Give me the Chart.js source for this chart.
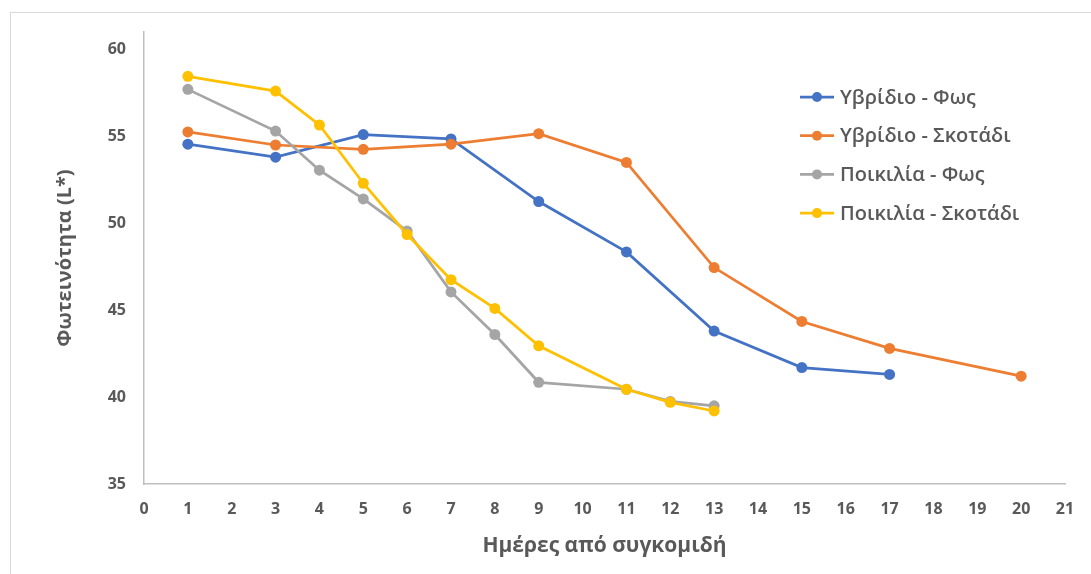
<!DOCTYPE html>
<html>
<head>
<meta charset="utf-8">
<script src="https://cdn.jsdelivr.net/npm/chart.js@4/dist/chart.umd.min.js"></script>
<style>
    html, body { margin: 0; padding: 0; background: #fff; }
    #wrap { width: 1091px; height: 574px; position: relative; }
</style>
</head>
<body>
<div id="wrap"><canvas id="lightness-chart"></canvas></div>
<script>
// Days after harvest for each series
const daysHybridLight = [1, 3, 5, 7, 9, 11, 13, 15, 17];
const daysHybridDark = [1, 3, 5, 7, 9, 11, 13, 15, 17, 20];
const daysVarietyLight = [1, 3, 4, 5, 6, 7, 8, 9, 11, 12, 13];
const daysVarietyDark = [1, 3, 4, 5, 6, 7, 8, 9, 11, 12, 13];

// Lightness (L*) values
const hybridLight = [54.55, 53.8, 55.1, 54.85, 51.25, 48.35, 43.8, 41.7, 41.3];
const hybridDark = [55.25, 54.5, 54.25, 54.55, 55.15, 53.5, 47.45, 44.35, 42.8, 41.2];
const varietyLight = [57.7, 55.3, 53.05, 51.4, 49.55, 46.05, 43.6, 40.85, 40.45, 39.75, 39.5];
const varietyDark = [58.45, 57.6, 55.65, 52.3, 49.35, 46.75, 45.1, 42.95, 40.45, 39.7, 39.2];

const seriesNames = ['Υβρίδιο - Φως', 'Υβρίδιο - Σκοτάδι', 'Ποικιλία - Φως', 'Ποικιλία - Σκοτάδι'];
const seriesColors = ['#4472C4', '#ED7D31', '#A5A5A5', '#FFC000'];

const yTicks = [35, 40, 45, 50, 55, 60];
const xTicks = [0, 1, 2, 3, 4, 5, 6, 7, 8, 9, 10, 11, 12, 13, 14, 15, 16, 17, 18, 19, 20, 21];

const labelColor = '#595959';
const axisColor = '#BFBFBF';

function toPoints(days, values) {
    return days.map((d, i) => ({ x: d, y: values[i] }));
}

function makeDataset(idx, days, values) {
    return {
        label: seriesNames[idx],
        data: toPoints(days, values),
        borderColor: seriesColors[idx],
        backgroundColor: seriesColors[idx],
        borderWidth: 2.75,
        pointRadius: 5.5,
        pointBorderWidth: 0,
        pointHoverRadius: 5.5,
        tension: 0,
        // later series sit on top of earlier ones
        order: 4 - idx
    };
}

// Thin outer frame around the chart
const framePlugin = {
    id: 'frame',
    beforeDraw(chart) {
        const ctx = chart.ctx;
        ctx.save();
        ctx.fillStyle = '#fff';
        ctx.fillRect(0, 0, chart.width, chart.height);
        ctx.strokeStyle = '#D9D9D9';
        ctx.lineWidth = 1;
        ctx.strokeRect(10.5, 12.5, chart.width + 20, chart.height + 20);
        ctx.restore();
    }
};

// Legend drawn inside the plot area, on the right
const insideLegend = {
    id: 'insideLegend',
    afterDraw(chart) {
        const ctx = chart.ctx;
        const x0 = 800, y0 = 97, rowGap = 38.7;
        ctx.save();
        ctx.font = '600 20px "Open Sans"';
        ctx.textBaseline = 'middle';
        ctx.textAlign = 'left';
        chart.data.datasets.forEach((ds, i) => {
            const y = y0 + i * rowGap;
            ctx.strokeStyle = ds.borderColor;
            ctx.lineWidth = 2.75;
            ctx.beginPath();
            ctx.moveTo(x0, y);
            ctx.lineTo(x0 + 34, y);
            ctx.stroke();
            ctx.fillStyle = ds.borderColor;
            ctx.beginPath();
            ctx.arc(x0 + 17, y, 5, 0, Math.PI * 2);
            ctx.fill();
            ctx.fillStyle = labelColor;
            ctx.fillText(ds.label, x0 + 40, y + 1);
        });
        ctx.restore();
    }
};

const ctx = document.getElementById('lightness-chart').getContext('2d');
new Chart(ctx, {
    type: 'line',
    data: {
        datasets: [
            makeDataset(0, daysHybridLight, hybridLight),
            makeDataset(1, daysHybridDark, hybridDark),
            makeDataset(2, daysVarietyLight, varietyLight),
            makeDataset(3, daysVarietyDark, varietyDark)
        ]
    },
    options: {
        responsive: true,
        maintainAspectRatio: false,
        animation: false,
        layout: { padding: { top: 32, right: 26, left: 0, bottom: 0 } },
        plugins: {
            legend: { display: false },
            tooltip: { enabled: false }
        },
        scales: {
            x: {
                type: 'linear',
                min: 0,
                max: 21,
                afterBuildTicks: s => { s.ticks = xTicks.map(v => ({ value: v })); },
                afterFit: s => { s.height = 90; },
                grid: { display: false, drawTicks: false },
                border: { color: axisColor, width: 1.5 },
                ticks: {
                    padding: 16,
                    color: labelColor,
                    font: { family: '"Open Sans"', size: 16, weight: 'bold' },
                    maxRotation: 0,
                    autoSkip: false
                },
                title: {
                    display: true,
                    text: 'Ημέρες από συγκομιδή',
                    color: labelColor,
                    font: { family: '"Open Sans"', size: 21, weight: 'bold' },
                    padding: { top: 0, bottom: 15.5 }
                }
            },
            y: {
                min: 35,
                max: 61,
                afterBuildTicks: s => { s.ticks = yTicks.map(v => ({ value: v })); },
                afterFit: s => { s.width = 144; },
                grid: { display: false, drawTicks: false },
                border: { color: axisColor, width: 1.5 },
                ticks: {
                    padding: 18,
                    color: labelColor,
                    font: { family: '"Open Sans"', size: 16, weight: 'bold' }
                },
                title: {
                    display: true,
                    text: 'Φωτεινότητα (L*)',
                    color: labelColor,
                    font: { family: '"Open Sans"', size: 20, weight: 'bold' },
                    padding: { top: 53, bottom: 0 }
                }
            }
        }
    },
    plugins: [framePlugin, insideLegend]
});
</script>
</body>
</html>
